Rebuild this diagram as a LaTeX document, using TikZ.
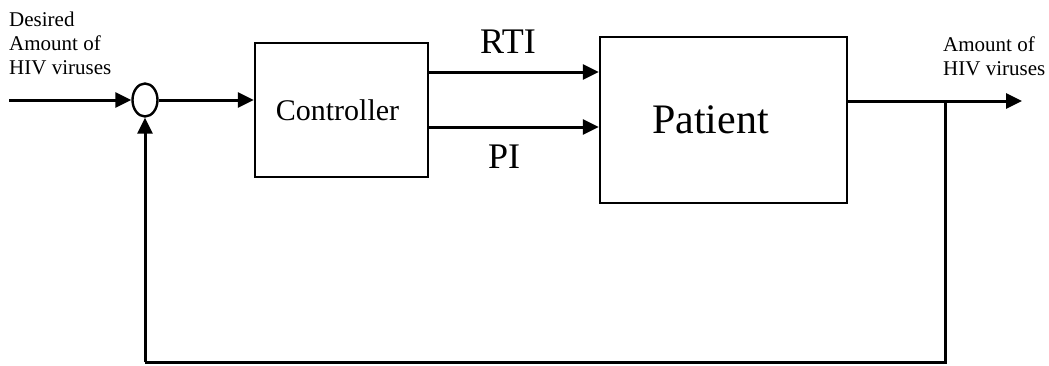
\documentclass[tikz,border=0pt]{standalone}
\usepackage{fontspec}
\setmainfont{Liberation Serif}
\usetikzlibrary{arrows.meta,shapes.geometric,calc}
\begin{document}
\begin{tikzpicture}[x=1pt,y=-1pt,
  blk/.style={draw,line width=2.4pt,inner sep=0pt},
  arr/.style={line width=3pt,-{Triangle[length=16pt,width=15pt]}},
  ln/.style={line width=3pt},
  small/.style={font=\fontsize{21}{24}\selectfont,inner sep=0pt,align=left}]
\useasboundingbox (0,0) rectangle (1049,365);
% blocks
\node[draw,ellipse,line width=2.4pt,minimum width=25pt,minimum height=33pt,inner sep=0pt] (sum) at (145,100) {};
\node[blk,minimum width=173pt,minimum height=134pt] (ctrl) at (341.5,110) {};
\node[font=\fontsize{30}{30}\selectfont,inner sep=0pt] (ctrltxt) at ([xshift=-4pt]ctrl.center) {Controller};
\node[blk,minimum width=247pt,minimum height=166pt] (pat) at (723.5,120) {};
\node[font=\fontsize{42}{42}\selectfont,inner sep=0pt] (pattxt) at ([xshift=-13pt]pat.center) {Patient};
% labels
\node[small,anchor=base west] (inlbl) at (9,74) {Desired\\Amount of\\HIV viruses};
\node[small,anchor=base west] (outlbl) at (943,75) {Amount of\\HIV viruses};
\node[font=\fontsize{36}{36}\selectfont,inner sep=0pt,anchor=base] (rti) at (508,53) {RTI};
\node[font=\fontsize{36}{36}\selectfont,inner sep=0pt,anchor=base] (pi) at (504,168) {PI};
% coordinates
\coordinate (in) at (9,100);
\coordinate (out) at (1022,101);
\coordinate (br) at (945,101);
\coordinate (brb) at (945,362);
\coordinate (fbl) at (145,362);
% connectors
\draw[arr] (in) -- (sum.west);
\draw[arr] (sum.east) -- (sum.east -| ctrl.west);
\draw[arr] ([yshift=38pt]ctrl.east) -- ([yshift=38pt]ctrl.east -| pat.west);
\draw[arr] ([yshift=-17pt]ctrl.east) -- ([yshift=-17pt]ctrl.east -| pat.west);
\draw[arr] (pat.east |- out) -- (out);
\draw[ln] (br) -- (brb) -- (fbl);
\draw[arr] (fbl) -- (sum.south);
\end{tikzpicture}
\end{document}
